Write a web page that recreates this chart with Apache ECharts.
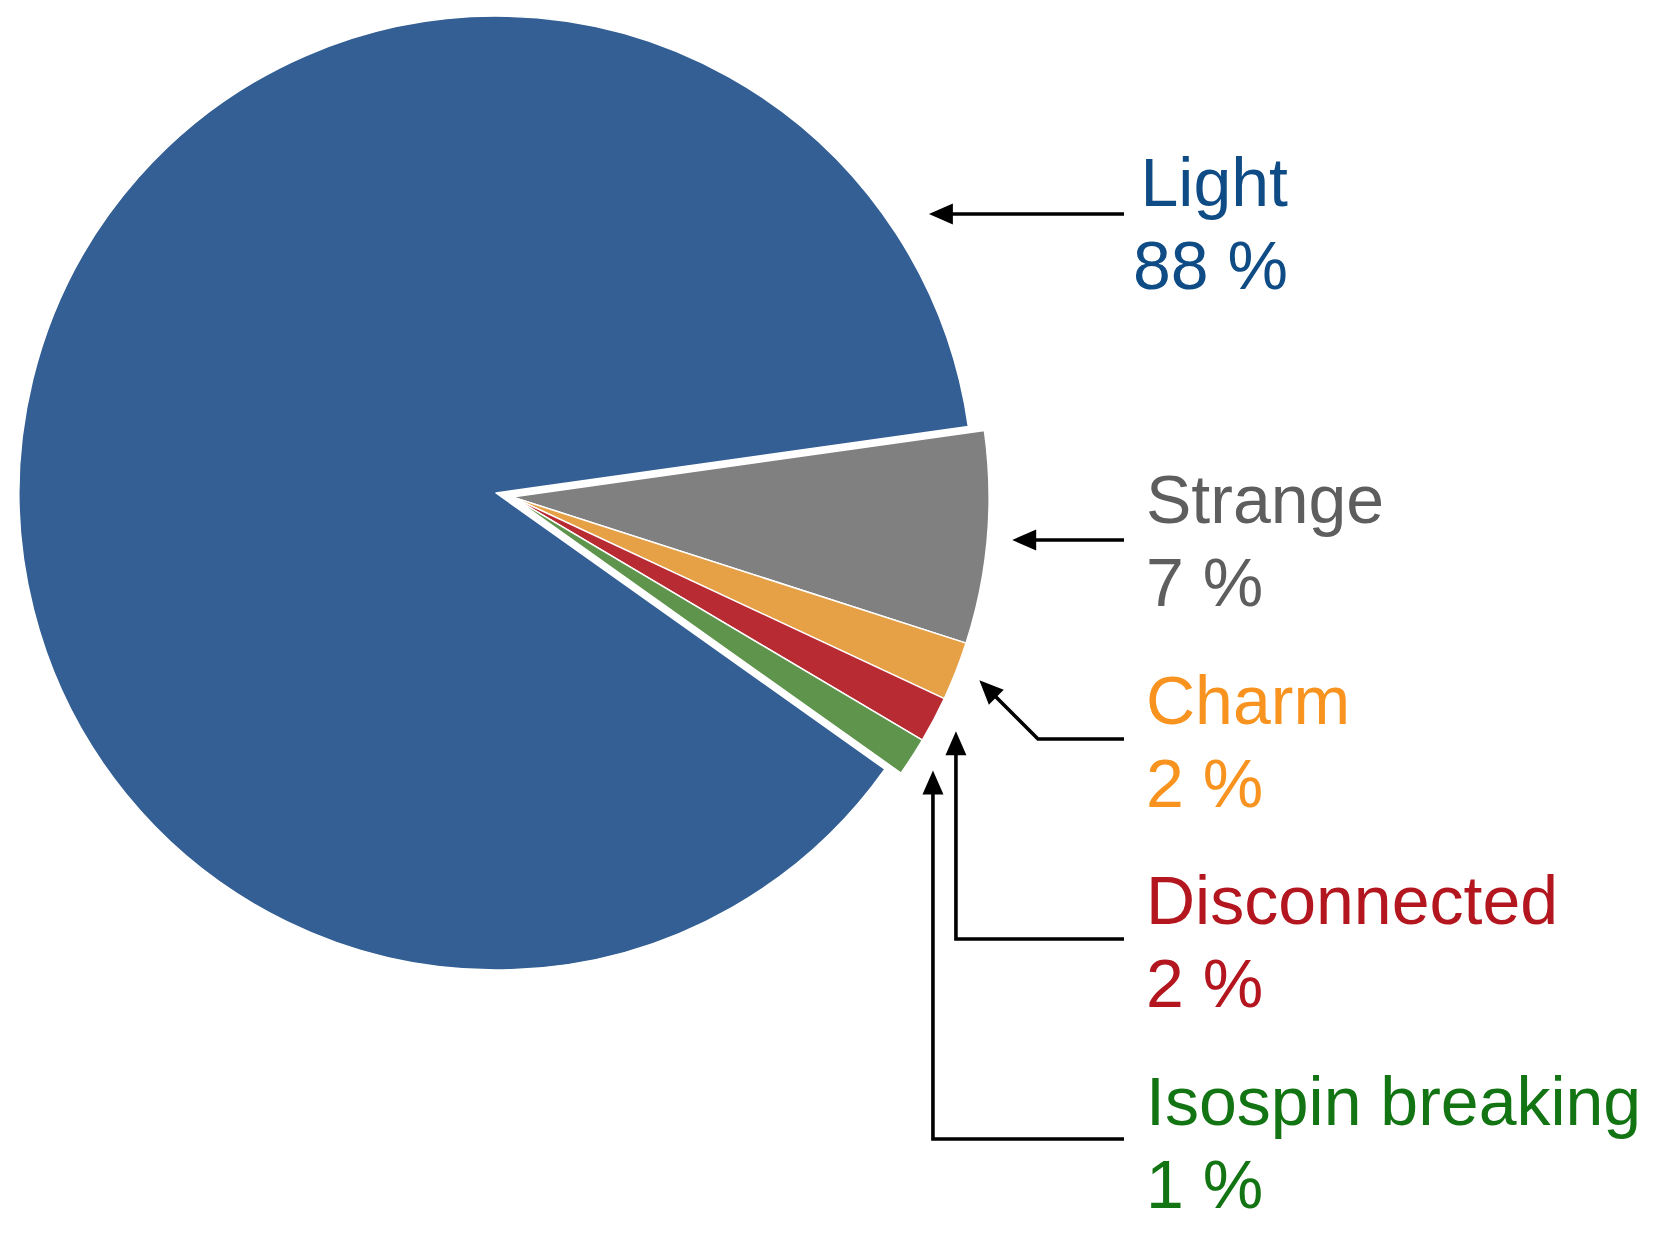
<!DOCTYPE html>
<html><head><meta charset="utf-8">
<script src="https://cdn.jsdelivr.net/npm/echarts@6/dist/echarts.min.js"></script>
<style>html,body{margin:0;padding:0;background:#fff}#c{width:1668px;height:1252px}</style>
</head><body><div id="c"></div>
<script>
// ---- data ----
const categories = ['Light', 'Strange', 'Charm', 'Disconnected', 'Isospin breaking'];
const shares = [87.95, 7.18, 1.99, 1.57, 1.31];
const shareLabels = ['88 %', '7 %', '2 %', '2 %', '1 %'];

// ---- styles ----
const sliceColors = ['#345f94', '#7f807f', '#e6a046', '#b92b33', '#5e944b'];
const textColors = ['#0f4c86', '#5e5e5e', '#f7931e', '#b3161e', '#137413'];

// ---- layout ----
const CX = 496, CY = 493, R = 477;
const TOP_EDGE = 8;          // angle (deg) of the upper edge of the small-slice group
const GROUP_SHIFT = 16.5;    // explode distance of the small-slice group
const FONT = 68, LINE_H = 83;
const labelX = [1288, 1146, 1146, 1146, 1146];
const labelAlign = ['right', 'left', 'left', 'left', 'left'];
const labelBaseline = [206, 523, 724, 924, 1125];
const arrowY = [null, null, 739, 939, 1139];
const arrowEndX = 1124;
const arrowKind = ['straight', 'straight', 'diag', 'elbow', 'elbow'];
const arrowAngleOverride = [32.8, null, null, null, null];
const arrowGap = [38, 25, 25, 25, 25];
const HEAD_L = 24, HEAD_W = 10.5, LINE_W = 3.6;

const RAD = Math.PI / 180;
const total = shares.reduce((a, b) => a + b, 0);
const small = total - shares[0];
const startAngle = TOP_EDGE - 360 * small / total;
const groupMid = TOP_EDGE - 180 * small / total;
const OX = CX + GROUP_SHIFT * Math.cos(groupMid * RAD);
const OY = CY - GROUP_SHIFT * Math.sin(groupMid * RAD);

function midAngle(i) {
  let cum = 0;
  for (let k = 0; k < i; k++) cum += shares[k];
  return startAngle - 360 * (cum + shares[i] / 2) / total;
}

// ---- arrows (annotation), derived from slice angles ----
const graphics = [];
categories.forEach((c, i) => {
  const ang = arrowAngleOverride[i] != null ? arrowAngleOverride[i] : midAngle(i);
  const ox = i === 0 ? CX : OX, oy = i === 0 ? CY : OY;
  const d = R + arrowGap[i];
  const tx = ox + d * Math.cos(ang * RAD), ty = oy - d * Math.sin(ang * RAD);
  let pts;
  if (arrowKind[i] === 'straight') {
    pts = [[arrowEndX, ty], [tx, ty]];
  } else if (arrowKind[i] === 'diag') {
    const Y = arrowY[i];
    pts = [[arrowEndX, Y], [tx + (Y - ty), Y], [tx, ty]];
  } else {
    const Y = arrowY[i];
    pts = [[arrowEndX, Y], [tx, Y], [tx, ty]];
  }
  const p = pts[pts.length - 2];
  let ux = tx - p[0], uy = ty - p[1];
  const len = Math.hypot(ux, uy); ux /= len; uy /= len;
  const nx = -uy, ny = ux;
  const bx = tx - ux * HEAD_L, by = ty - uy * HEAD_L;
  const linePts = pts.slice(0, -1).concat([[tx - ux * HEAD_L * 0.6, ty - uy * HEAD_L * 0.6]]);
  graphics.push({
    type: 'polyline', silent: true, z: 10,
    shape: { points: linePts },
    style: { stroke: '#000', lineWidth: LINE_W, fill: null }
  });
  graphics.push({
    type: 'polygon', silent: true, z: 10,
    shape: { points: [[tx, ty], [bx + nx * HEAD_W, by + ny * HEAD_W], [bx - nx * HEAD_W, by - ny * HEAD_W]] },
    style: { fill: '#000' }
  });
});

const hidden = { color: 'rgba(0,0,0,0)', borderWidth: 0 };

const mainData = categories.map((name, i) => ({
  name, value: shares[i],
  itemStyle: i === 0 ? { color: sliceColors[i], borderColor: '#fff', borderWidth: 1.5 } : hidden
}));
const groupData = categories.map((name, i) => ({
  name, value: shares[i],
  itemStyle: i === 0 ? hidden : { color: sliceColors[i], borderColor: '#fff', borderWidth: 1.5 },
  label: { color: textColors[i], align: labelAlign[i] }
}));

const chart = echarts.init(document.getElementById('c'), null, { renderer: 'svg' });
chart.setOption({
  animation: false,
  backgroundColor: '#fff',
  series: [
    {
      type: 'pie', silent: true, emphasis: { disabled: true },
      center: [CX, CY], radius: R, startAngle, clockwise: true,
      label: { show: false }, labelLine: { show: false },
      data: mainData
    },
    {
      type: 'pie', silent: true, emphasis: { disabled: true },
      center: [OX, OY], radius: R, startAngle, clockwise: true,
      avoidLabelOverlap: false,
      label: {
        show: true, position: 'outside',
        fontFamily: '"Liberation Sans", Arial, Helvetica, sans-serif',
        fontSize: FONT, lineHeight: LINE_H,
        formatter: p => categories[p.dataIndex] + '\n' + shareLabels[p.dataIndex]
      },
      labelLine: { show: false },
      labelLayout: p => {
        const i = p.dataIndex;
        return {
          x: labelX[i],
          y: labelBaseline[i] - 0.3465 * FONT - LINE_H / 2,
          align: labelAlign[i], verticalAlign: 'top'
        };
      },
      data: groupData
    }
  ],
  graphic: graphics
});
</script>
</body></html>
